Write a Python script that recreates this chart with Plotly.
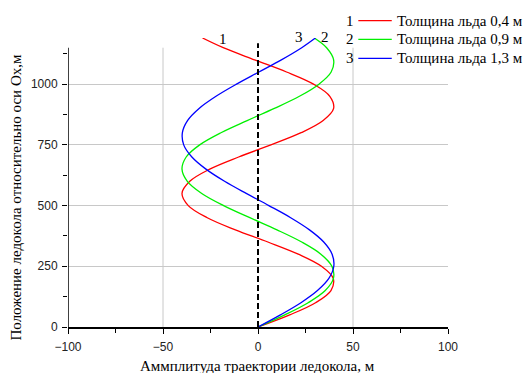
import plotly.graph_objects as go

# Position along Ox (m) and trajectory amplitude (m)
y_pos = [0, 50, 100, 150, 200, 250, 300, 350, 400, 450, 500, 550, 600, 650,
         700, 750, 800, 850, 900, 950, 1000, 1050, 1100, 1150, 1190]
x_ice_04 = [0, 16.7, 30.3, 38.4, 39.6, 33.4, 21.2, 5.2, -11.9, -26.7, -36.7, -40.0,
            -35.9, -25.4, -10.2, 6.8, 22.7, 34.3, 39.8, 37.8, 29.2, 15.0, -1.8, -18.3, -29.2]
x_ice_09 = [0, 14.1, 26.4, 35.4, 39.7, 38.9, 33.1, 23.0, 10.0, -4.3, -18.1, -29.6,
            -37.2, -40.0, -37.8, -30.7, -19.5, -5.7, 8.6, 21.8, 32.1, 38.5, 39.8, 36.1, 29.6]
x_ice_13 = [0, 11.8, 22.6, 31.3, 37.3, 39.9, 39.0, 34.6, 27.1, 17.2, 5.7, -6.2,
            -17.6, -27.4, -34.8, -39.1, -39.8, -37.1, -31.0, -22.1, -11.3, 0.5, 12.3, 23.0, 30.2]

series_names = ["Толщина льда 0,4 м", "Толщина льда 0,9 м", "Толщина льда 1,3 м"]
series_nums = ["1", "2", "3"]
series_colors = ["#ff0000", "#00f000", "#0000ff"]
series_x = [x_ice_04, x_ice_09, x_ice_13]

x_title = "Аммплитуда траектории ледокола, м"
y_title = "Положение ледокола относительно оси Ox,м"

SERIF = "Liberation Serif, Times New Roman, serif"
SANS = "Liberation Sans, Arial, sans-serif"

fig = go.Figure()
for xs, name, col in zip(series_x, series_names, series_colors):
    fig.add_trace(go.Scatter(x=xs, y=y_pos, mode="lines", name=name,
                             line=dict(color=col, width=1.3, shape="spline", smoothing=1.0),
                             showlegend=False))

shapes = []
# vertical grid lines
for gx in [-50, 50]:
    shapes.append(dict(type="line", xref="x", yref="y", x0=gx, x1=gx, y0=0, y1=1150,
                       line=dict(color="#c8c8c8", width=1), layer="below"))
# y axis line
shapes.append(dict(type="line", xref="x", yref="y", x0=-100, x1=-100, y0=0, y1=1150,
                   line=dict(color="black", width=1.5)))
# dashed zero line
shapes.append(dict(type="line", xref="x", yref="y", x0=0, x1=0, y0=0, y1=1168,
                   line=dict(color="black", width=2, dash="6px,3px")))

annotations = []
# manual legend
leg_y = [1.0599, 0.9955, 0.9298]
for num, name, col, ly in zip(series_nums, series_names, series_colors, leg_y):
    shapes.append(dict(type="line", xref="paper", yref="paper", x0=0.764, x1=0.852,
                       y0=ly, y1=ly, line=dict(color=col, width=1.3)))
    annotations.append(dict(xref="paper", yref="paper", x=0.860, y=ly, text=name,
                            showarrow=False, xanchor="left", yanchor="middle",
                            font=dict(family=SERIF, size=15, color="black")))
    annotations.append(dict(xref="paper", yref="paper", x=0.743, y=ly, text=num,
                            showarrow=False, xanchor="center", yanchor="middle",
                            font=dict(family=SERIF, size=15, color="black")))

# curve labels
for txt, lx, ly in [("1", 0.4087, 0.9955), ("3", 0.6079, 1.0024), ("2", 0.6763, 1.0024)]:
    annotations.append(dict(xref="paper", yref="paper", x=lx, y=ly, text=txt, showarrow=False,
                            xanchor="center", yanchor="middle",
                            font=dict(family=SERIF, size=15, color="black")))

# axis titles
annotations.append(dict(xref="paper", yref="paper", x=(257 - 68) / 380, y=(327 - 366) / 289,
                        text=x_title, showarrow=False, xanchor="center", yanchor="middle",
                        font=dict(family=SERIF, size=15, color="black")))
annotations.append(dict(xref="paper", yref="paper", x=(15 - 68) / 380, y=(327 - 197.5) / 289,
                        text=y_title, showarrow=False, xanchor="center", yanchor="middle",
                        textangle=-90, font=dict(family=SERIF, size=15, color="black")))

fig.update_layout(
    width=526, height=373,
    margin=dict(l=68, r=78, t=38, b=46, autoexpand=False),
    paper_bgcolor="white", plot_bgcolor="white",
    shapes=shapes, annotations=annotations,
    showlegend=False,
)
fig.update_xaxes(range=[-100, 100], dtick=50, tick0=-100, showgrid=False, zeroline=False,
                 showline=True, linecolor="black", linewidth=1.5, automargin=False,
                 ticks="outside", ticklen=5, tickcolor="black", tickwidth=1,
                 ticklabelstandoff=3,
                 minor=dict(dtick=25, ticks="outside", ticklen=4, tickcolor="black", showgrid=False),
                 tickfont=dict(family=SANS, size=12, color="#222"))
fig.update_yaxes(range=[0, 1190], dtick=250, tick0=0, showgrid=True, gridcolor="#c8c8c8", gridwidth=1,
                 zeroline=False, showline=False, automargin=False,
                 ticks="outside", ticklen=5, tickcolor="black", tickwidth=1,
                 ticklabelstandoff=2,
                 minor=dict(dtick=125, ticks="outside", ticklen=4, tickcolor="black", showgrid=False),
                 tickfont=dict(family=SANS, size=12, color="#222"))

fig.write_html("out.html", config={"displayModeBar": False},
               post_script="document.body.style.margin='0';document.body.style.overflow='hidden';")
